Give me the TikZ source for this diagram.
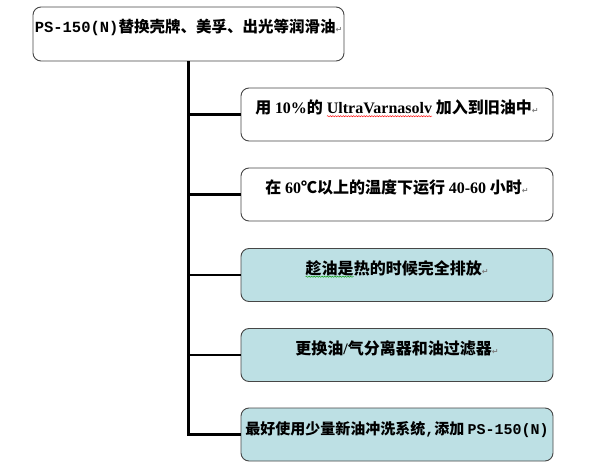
\documentclass[tikz,border=0pt]{standalone}
\usepackage{fontspec}
\usetikzlibrary{decorations.pathmorphing}
\setmainfont{Liberation Serif}
\newfontfamily\cjk{Noto Sans CJK SC}
\newfontfamily\monof{Liberation Mono}
\newfontfamily\symf{DejaVu Sans}
\newcommand\wavyul[2]{\tikz[baseline=(wv.base)]{\node[inner sep=0pt,outer sep=0pt,minimum width=0pt,minimum height=0pt,text height={},text depth={},draw=none,fill=none,rounded corners=0pt] (wv) {#2};
  \draw[#1, line width=0.45pt, rounded corners=0pt, decorate, decoration={snake, amplitude=0.6pt, segment length=2.6pt}] ([yshift=-2.2pt]wv.base west) -- ([yshift=-2.2pt]wv.base east);}}
\newcommand\latx[1]{{\rmfamily\bfseries #1}}
\newcommand\monox[1]{{\monof\bfseries #1}}
\newcommand\pmk{{\symf\fontsize{8}{8}\selectfont\textcolor{gray}{↵}}}
\definecolor{stepfill}{RGB}{189,224,228}
\definecolor{boxline}{RGB}{70,70,70}
\tikzset{
  basebox/.style={draw=boxline, line width=0.9pt, rounded corners=8pt,
    inner xsep=0pt, inner ysep=4pt, text height=22pt,
    font=\cjk\bfseries\fontsize{16}{18}\selectfont},
  topbox/.style={basebox, fill=white, minimum width=311pt, minimum height=54pt,
    text depth=24pt, font=\cjk\bfseries\fontsize{15.5}{18}\selectfont},
  whitebox/.style={basebox, fill=white, minimum width=312pt, minimum height=53pt, text depth=23pt},
  tealbox/.style={basebox, fill=stepfill, minimum width=312pt, minimum height=53pt, text depth=23pt},
  conn/.style={draw=black, line width=2.4pt, line join=miter}
}
\begin{document}
\begin{tikzpicture}[x=1pt,y=-1pt]
\useasboundingbox (0,0) rectangle (595,468);
\node[topbox] (top) at (188.5,34) {\monox{PS-150(N)}替换壳牌、美孚、出光等润滑油\pmk};
\node[whitebox] (b1) at (397,114.5) {用 \latx{10\%}的 \wavyul{red}{\latx{UltraVarnasolv}} 加入到旧油中\pmk};
\node[whitebox] (b2) at (397,194.5) {在 \latx{60}℃以上的温度下运行 \latx{40-60} 小时\pmk};
\node[tealbox] (b3) at (397,275) {\wavyul{green!60!black}{趁油是}热的时候完全排放\pmk};
\node[tealbox] (b4) at (397,355) {更换油\latx{/}气分离器和油过滤器\pmk};
\node[tealbox, font=\cjk\bfseries\fontsize{15}{18}\selectfont] (b5) at (397,434.5) {最好使用少量新油冲洗系统\monox{,}添加 \monox{PS-150(N)}};
\draw[conn] (top.south) -- (top.south |- b5.west) -- (b5.west);
\draw[conn] (top.south |- b1.west) -- (b1.west);
\draw[conn] (top.south |- b2.west) -- (b2.west);
\draw[conn] (top.south |- b3.west) -- (b3.west);
\draw[conn] (top.south |- b4.west) -- (b4.west);
\end{tikzpicture}
\end{document}
